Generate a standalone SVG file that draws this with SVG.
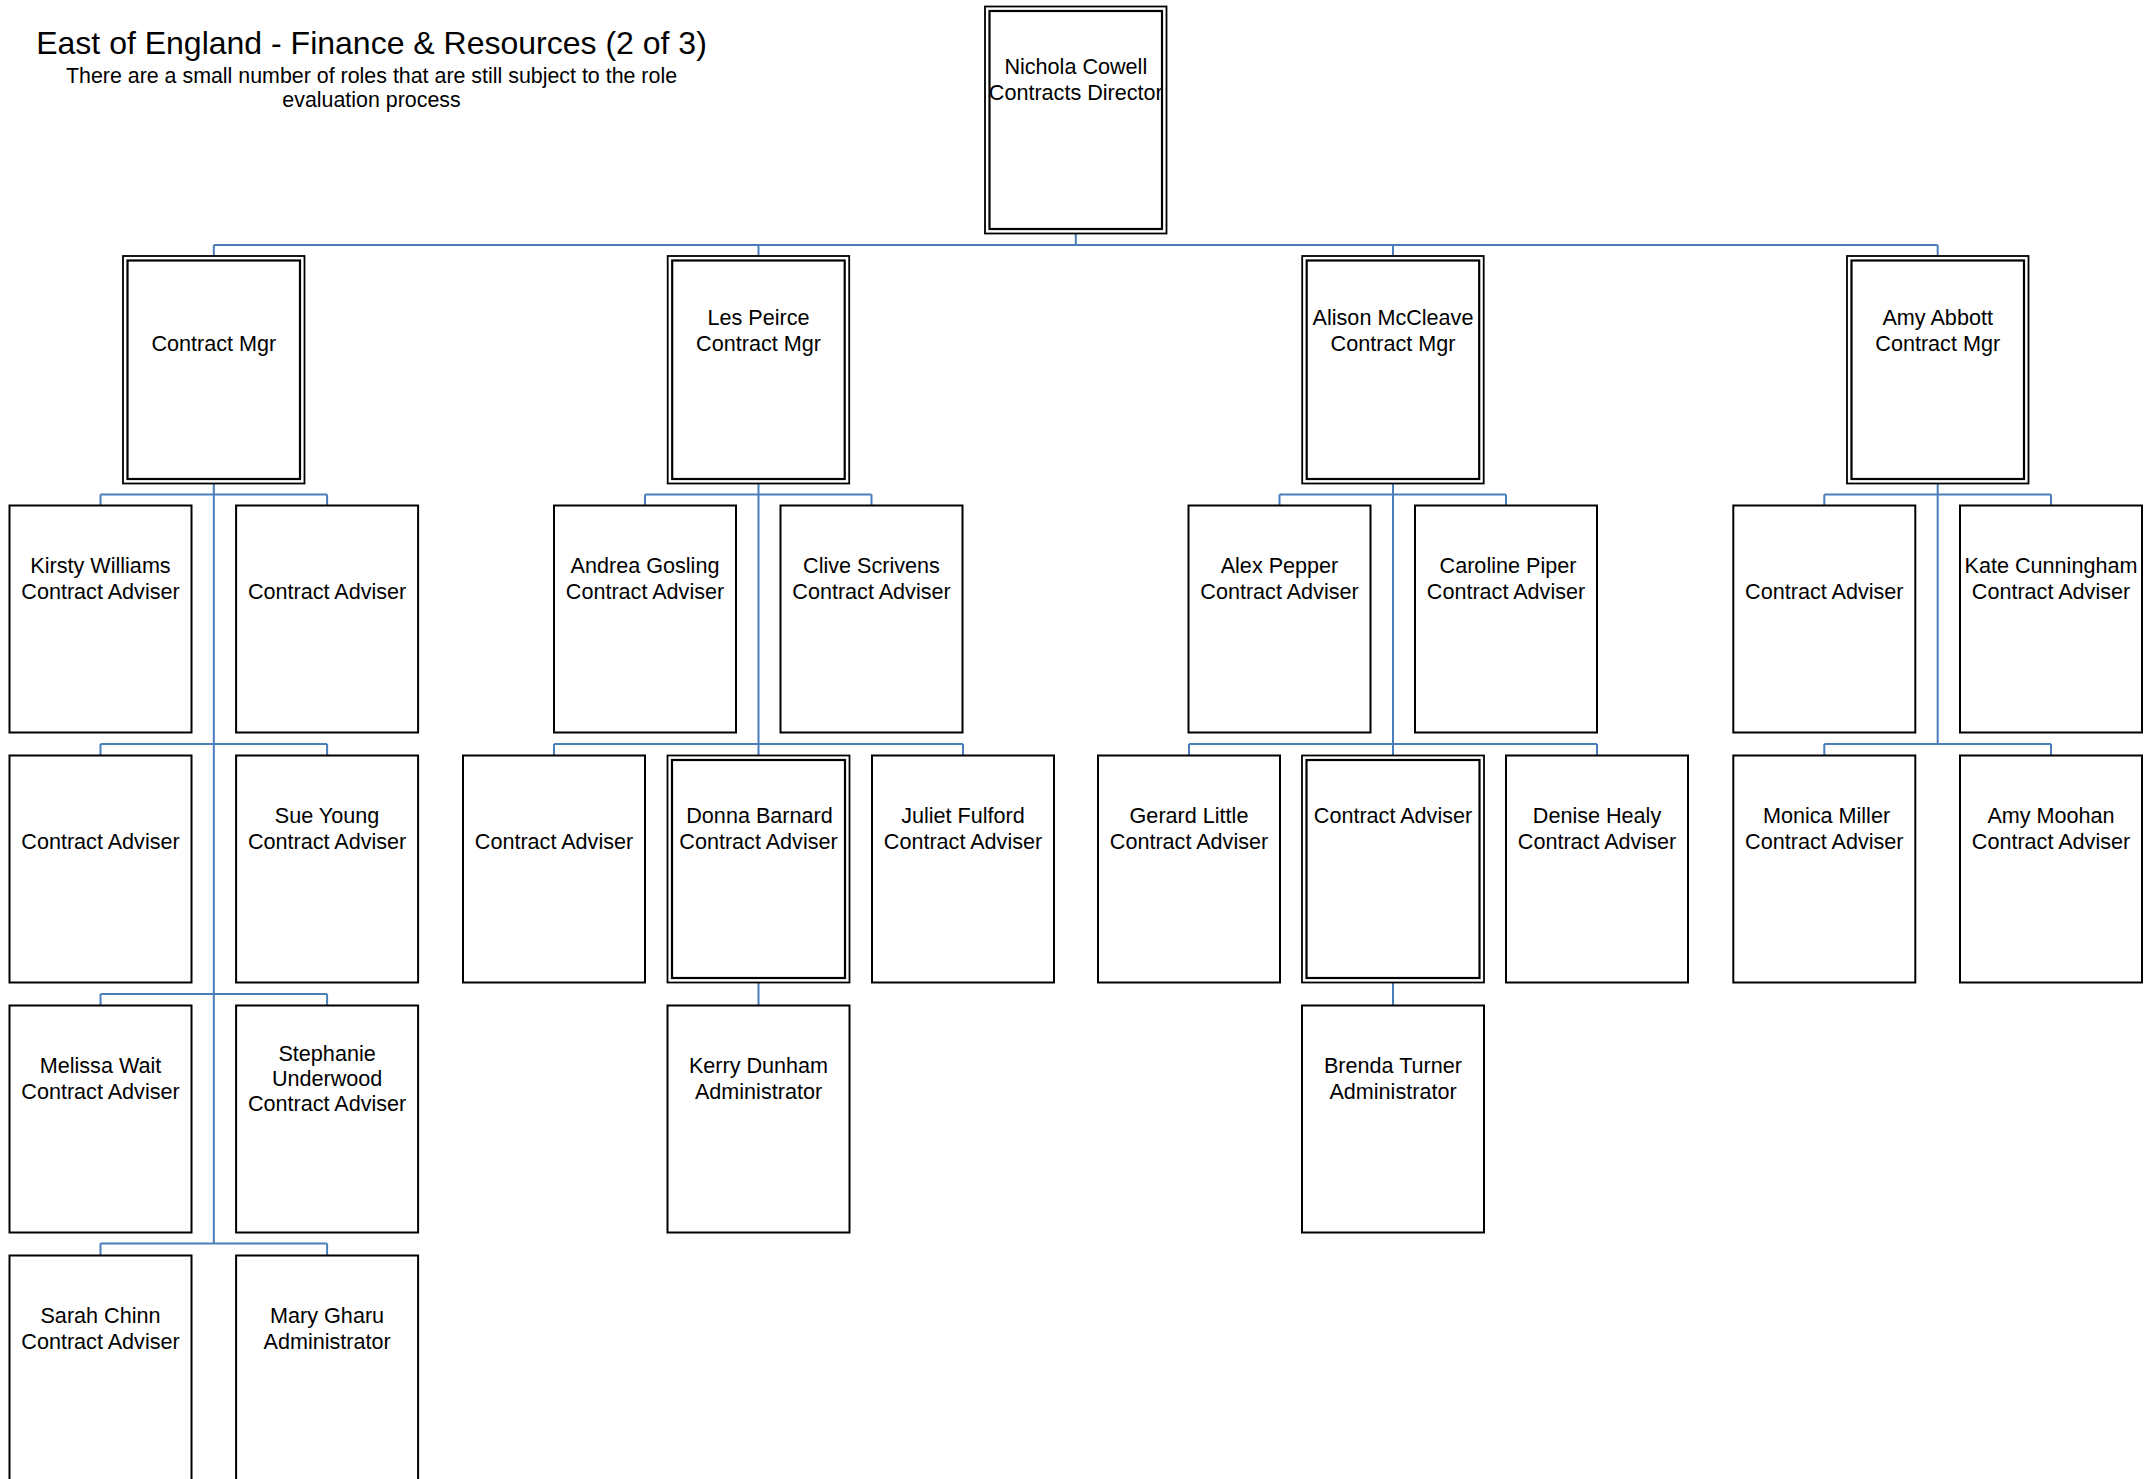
<svg xmlns="http://www.w3.org/2000/svg" width="2149" height="1479" viewBox="0 0 2149 1479">
<style>
.b{fill:#fff;stroke:#000;stroke-width:2}
.o{fill:#fff;stroke:#000;stroke-width:1.8}
.i{fill:none;stroke:#000;stroke-width:2.2}
.t{font-family:"Liberation Sans",Arial,sans-serif;font-size:21.6px;fill:#000;text-anchor:middle}
.s{font-family:"Liberation Sans",Arial,sans-serif;font-size:21.4px;fill:#000;text-anchor:middle}
.h{font-family:"Liberation Sans",Arial,sans-serif;font-size:32px;fill:#000;text-anchor:middle}
.c{fill:none;stroke:#4a7ebb;stroke-width:2}
</style>
<rect width="2149" height="1479" fill="#fff"/>
<g id="title">
<text class="h" x="371.5" y="54">East of England - Finance &amp; Resources (2 of 3)</text>
<text class="s" x="371.5" y="83">There are a small number of roles that are still subject to the role</text>
<text class="s" x="371.5" y="107">evaluation process</text>
</g>
<g id="connectors" class="c">
<path d="M1075.8 233.5V245M213.8 245H1937.7M213.8 245V256M758.5 245V256M1393 245V256M1937.7 245V256"/>
<path d="M213.8 483.5V1243.5M100.5 494.5H327.1M100.5 494.5V505.5M327.1 494.5V505.5M100.5 744H327.1M100.5 744V755.5M327.1 744V755.5M100.5 994H327.1M100.5 994V1005.5M327.1 994V1005.5M100.5 1243.5H327.1M100.5 1243.5V1255.5M327.1 1243.5V1255.5"/>
<path d="M758.5 483.5V755.5M645 494.5H871.5M645 494.5V505.5M871.5 494.5V505.5M554 744H963M554 744V755.5M963 744V755.5M758.5 982.5V1005.5"/>
<path d="M1393 483.5V755.5M1279.5 494.5H1506M1279.5 494.5V505.5M1506 494.5V505.5M1189 744H1597M1189 744V755.5M1597 744V755.5M1393 982.5V1005.5"/>
<path d="M1937.7 483.5V744M1824.3 494.5H2051M1824.3 494.5V505.5M2051 494.5V505.5M1824.3 744H2051M1824.3 744V755.5M2051 744V755.5"/>
</g>
<g id="n-cowell">
<rect class="o" x="985" y="6.5" width="181.5" height="227"/><rect class="i" x="989.5" y="11" width="172.5" height="218"/>
<text class="t" x="1075.8" y="74">Nichola Cowell</text><text class="t" x="1075.8" y="100">Contracts Director</text>
</g>
<g id="n-mgr1">
<rect class="o" x="123" y="256" width="181.5" height="227.5"/><rect class="i" x="127.5" y="260.5" width="172.5" height="218.5"/>
<text class="t" x="213.8" y="350.5">Contract Mgr</text>
</g>
<g id="n-peirce">
<rect class="o" x="667.7" y="256" width="181.5" height="227.5"/><rect class="i" x="672.2" y="260.5" width="172.5" height="218.5"/>
<text class="t" x="758.5" y="325">Les Peirce</text><text class="t" x="758.5" y="350.5">Contract Mgr</text>
</g>
<g id="n-mccleave">
<rect class="o" x="1302.2" y="256" width="181.5" height="227.5"/><rect class="i" x="1306.7" y="260.5" width="172.5" height="218.5"/>
<text class="t" x="1393" y="325">Alison McCleave</text><text class="t" x="1393" y="350.5">Contract Mgr</text>
</g>
<g id="n-abbott">
<rect class="o" x="1847" y="256" width="181.5" height="227.5"/><rect class="i" x="1851.5" y="260.5" width="172.5" height="218.5"/>
<text class="t" x="1937.7" y="325">Amy Abbott</text><text class="t" x="1937.7" y="350.5">Contract Mgr</text>
</g>
<g id="n-williams"><rect class="b" x="9.5" y="505.5" width="182" height="227"/>
<text class="t" x="100.5" y="573">Kirsty Williams</text><text class="t" x="100.5" y="599">Contract Adviser</text></g>
<g id="n-g1-ca1"><rect class="b" x="236.1" y="505.5" width="182" height="227"/>
<text class="t" x="327.1" y="599">Contract Adviser</text></g>
<g id="n-g1-ca2"><rect class="b" x="9.5" y="755.5" width="182" height="227"/>
<text class="t" x="100.5" y="849">Contract Adviser</text></g>
<g id="n-young"><rect class="b" x="236.1" y="755.5" width="182" height="227"/>
<text class="t" x="327.1" y="823">Sue Young</text><text class="t" x="327.1" y="849">Contract Adviser</text></g>
<g id="n-wait"><rect class="b" x="9.5" y="1005.5" width="182" height="227"/>
<text class="t" x="100.5" y="1073">Melissa Wait</text><text class="t" x="100.5" y="1099">Contract Adviser</text></g>
<g id="n-underwood"><rect class="b" x="236.1" y="1005.5" width="182" height="227"/>
<text class="t" x="327.1" y="1061">Stephanie</text><text class="t" x="327.1" y="1086">Underwood</text><text class="t" x="327.1" y="1111">Contract Adviser</text></g>
<g id="n-chinn"><rect class="b" x="9.5" y="1255.5" width="182" height="227"/>
<text class="t" x="100.5" y="1323">Sarah Chinn</text><text class="t" x="100.5" y="1349">Contract Adviser</text></g>
<g id="n-gharu"><rect class="b" x="236.1" y="1255.5" width="182" height="227"/>
<text class="t" x="327.1" y="1323">Mary Gharu</text><text class="t" x="327.1" y="1349">Administrator</text></g>
<g id="n-gosling"><rect class="b" x="554" y="505.5" width="182" height="227"/>
<text class="t" x="645" y="573">Andrea Gosling</text><text class="t" x="645" y="599">Contract Adviser</text></g>
<g id="n-scrivens"><rect class="b" x="780.5" y="505.5" width="182" height="227"/>
<text class="t" x="871.5" y="573">Clive Scrivens</text><text class="t" x="871.5" y="599">Contract Adviser</text></g>
<g id="n-g2-ca"><rect class="b" x="463" y="755.5" width="182" height="227"/>
<text class="t" x="554" y="849">Contract Adviser</text></g>
<g id="n-barnard"><rect class="o" x="667.5" y="755.5" width="182" height="227"/><rect class="i" x="672" y="760" width="173" height="218"/>
<text class="t" x="759.5" y="823">Donna Barnard</text><text class="t" x="758.5" y="849">Contract Adviser</text></g>
<g id="n-fulford"><rect class="b" x="872" y="755.5" width="182" height="227"/>
<text class="t" x="963" y="823">Juliet Fulford</text><text class="t" x="963" y="849">Contract Adviser</text></g>
<g id="n-dunham"><rect class="b" x="667.5" y="1005.5" width="182" height="227"/>
<text class="t" x="758.5" y="1073">Kerry Dunham</text><text class="t" x="758.5" y="1099">Administrator</text></g>
<g id="n-pepper"><rect class="b" x="1188.5" y="505.5" width="182" height="227"/>
<text class="t" x="1279.5" y="573">Alex Pepper</text><text class="t" x="1279.5" y="599">Contract Adviser</text></g>
<g id="n-piper"><rect class="b" x="1415" y="505.5" width="182" height="227"/>
<text class="t" x="1508" y="573">Caroline Piper</text><text class="t" x="1506" y="599">Contract Adviser</text></g>
<g id="n-little"><rect class="b" x="1098" y="755.5" width="182" height="227"/>
<text class="t" x="1189" y="823">Gerard Little</text><text class="t" x="1189" y="849">Contract Adviser</text></g>
<g id="n-g3-ca"><rect class="o" x="1302" y="755.5" width="182" height="227"/><rect class="i" x="1306.5" y="760" width="173" height="218"/>
<text class="t" x="1393" y="823">Contract Adviser</text></g>
<g id="n-healy"><rect class="b" x="1506" y="755.5" width="182" height="227"/>
<text class="t" x="1597" y="823">Denise Healy</text><text class="t" x="1597" y="849">Contract Adviser</text></g>
<g id="n-turner"><rect class="b" x="1302" y="1005.5" width="182" height="227"/>
<text class="t" x="1393" y="1073">Brenda Turner</text><text class="t" x="1393" y="1099">Administrator</text></g>
<g id="n-g4-ca"><rect class="b" x="1733.3" y="505.5" width="182" height="227"/>
<text class="t" x="1824.3" y="599">Contract Adviser</text></g>
<g id="n-cunningham"><rect class="b" x="1960" y="505.5" width="182" height="227"/>
<text class="t" x="2051" y="573">Kate Cunningham</text><text class="t" x="2051" y="599">Contract Adviser</text></g>
<g id="n-miller"><rect class="b" x="1733.3" y="755.5" width="182" height="227"/>
<text class="t" x="1826.5" y="823">Monica Miller</text><text class="t" x="1824.3" y="849">Contract Adviser</text></g>
<g id="n-moohan"><rect class="b" x="1960" y="755.5" width="182" height="227"/>
<text class="t" x="2051" y="823">Amy Moohan</text><text class="t" x="2051" y="849">Contract Adviser</text></g>
</svg>
